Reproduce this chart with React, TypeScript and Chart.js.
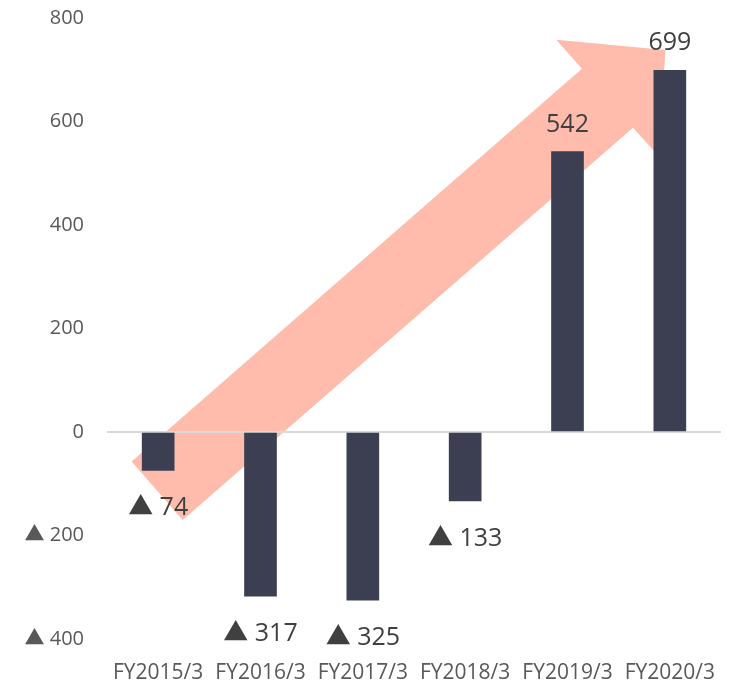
import React, { useEffect, useRef } from "react";
import { Chart, registerables } from "chart.js";

Chart.register(...registerables);

const categories = ["FY2015/3", "FY2016/3", "FY2017/3", "FY2018/3", "FY2019/3", "FY2020/3"];
const values = [-74, -317, -325, -133, 542, 699];
const yTicks = [-400, -200, 0, 200, 400, 600, 800];

// Decorative arrow outline, expressed in (category index, value) space
const arrowIdx = [-0.259, 4.141, 3.89, 4.956, 4.897, 4.64, 0.24];
const arrowVal = [-57, 702, 758, 738, 532, 588, -170];

const FONT = "'Open Sans', 'Noto Sans CJK JP', sans-serif";
const fmt = (v: number) => (v < 0 ? "▲ " + Math.abs(v) : String(v));

const arrowPlugin = {
  id: "arrowBg",
  beforeDraw(chart: any) {
    const x = chart.scales.x;
    const y = chart.scales.y;
    const ctx = chart.ctx;
    ctx.save();
    ctx.beginPath();
    arrowIdx.forEach((ix, i) => {
      const px = x.getPixelForValue(ix);
      const py = y.getPixelForValue(arrowVal[i]);
      if (i === 0) ctx.moveTo(px, py);
      else ctx.lineTo(px, py);
    });
    ctx.closePath();
    ctx.fillStyle = "rgb(255,187,171)";
    ctx.fill();
    ctx.restore();
  },
};

const labelPlugin = {
  id: "barLabels",
  afterDatasetsDraw(chart: any) {
    const ctx = chart.ctx;
    const meta = chart.getDatasetMeta(0);
    ctx.save();
    ctx.font = `25px ${FONT}`;
    ctx.fillStyle = "#404040";
    ctx.textAlign = "center";
    ctx.textBaseline = "middle";
    meta.data.forEach((bar: any, i: number) => {
      const v = values[i];
      const yy = v < 0 ? bar.y + 38 : bar.y - 27;
      ctx.fillText(fmt(v), bar.x, yy);
    });
    ctx.restore();
  },
};

export default function App() {
  const ref = useRef<HTMLCanvasElement>(null);
  useEffect(() => {
    if (!ref.current) return;
    const chart = new Chart(ref.current, {
      type: "bar",
      data: {
        labels: categories,
        datasets: [
          {
            data: values,
            backgroundColor: "#3C3E52",
            barThickness: 32,
          },
        ],
      },
      options: {
        animation: false,
        responsive: true,
        maintainAspectRatio: false,
        layout: { padding: { top: 18, right: 11, bottom: 0, left: 0 } },
        plugins: { legend: { display: false }, tooltip: { enabled: false } },
        scales: {
          x: {
            grid: { display: false },
            border: { display: false },
            ticks: {
              color: "#595959",
              font: { family: FONT, size: 21 },
              maxRotation: 0,
              autoSkip: false,
              padding: 13,
            },
            afterFit: (s: any) => {
              s.height = 44;
            },
          },
          y: {
            min: -400,
            max: 800,
            afterBuildTicks: (s: any) => {
              s.ticks = yTicks.map((v) => ({ value: v }));
            },
            grid: {
              drawTicks: false,
              lineWidth: 2,
              color: (c: any) => (c.tick && c.tick.value === 0 ? "#D9D9D9" : "rgba(0,0,0,0)"),
            },
            border: { display: false },
            ticks: {
              color: "#595959",
              font: { family: FONT, size: 20 },
              padding: 23,
              callback: (v: any) => fmt(Number(v)),
            },
            afterFit: (s: any) => {
              s.width = 107;
              s.paddingTop = 0;
              s.paddingBottom = 0;
            },
          },
        },
      },
      plugins: [arrowPlugin, labelPlugin],
    });
    return () => chart.destroy();
  }, []);
  return (
    <div style={{ position: "absolute", left: 0, top: 0, width: 732, height: 683 }}>
      <canvas ref={ref} />
    </div>
  );
}
